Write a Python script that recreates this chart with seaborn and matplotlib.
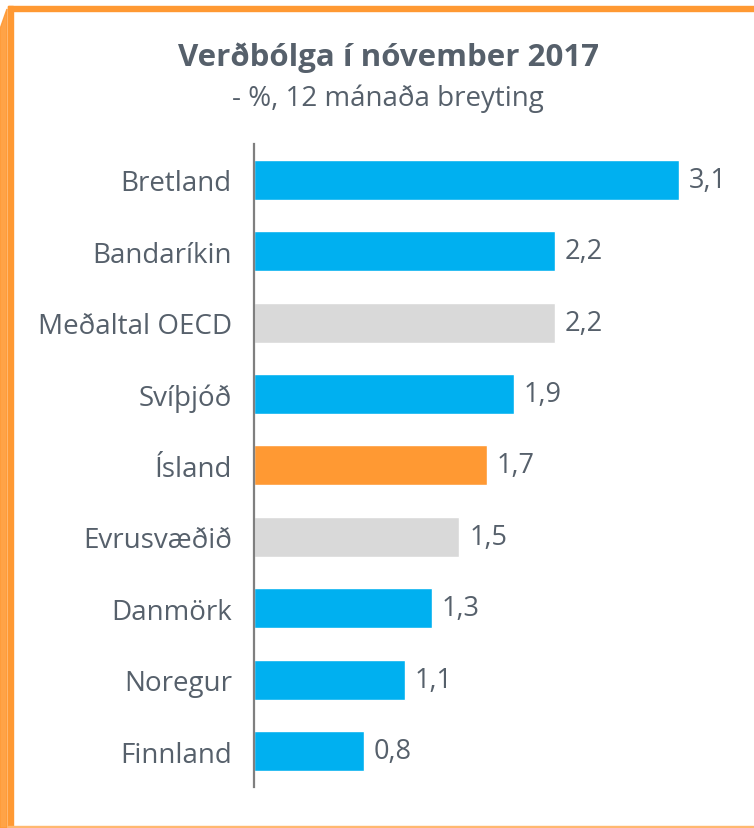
import matplotlib
matplotlib.use("Agg")

import matplotlib.pyplot as plt
import pandas as pd
import seaborn as sns
from matplotlib.patches import Rectangle, Polygon

# data
countries = ["Bretland", "Bandaríkin", "Meðaltal OECD", "Svíþjóð", "Ísland",
             "Evrusvæðið", "Danmörk", "Noregur", "Finnland"]
inflation = [3.1, 2.2, 2.2, 1.9, 1.7, 1.5, 1.3, 1.1, 0.8]
groups = ["land", "land", "meðaltal", "land", "ísland",
          "meðaltal", "land", "land", "land"]

GROUP_COLORS = {"land": "#00B0F0", "meðaltal": "#D9D9D9", "ísland": "#FF9933"}
TEXT = "#56606B"
ORANGE = "#FF9933"

sns.set_theme(style="white")
plt.rcParams["font.family"] = ["Open Sans", "DejaVu Sans"]

df = pd.DataFrame({"land": countries, "verdbolga": inflation, "hopur": groups})

fig = plt.figure(figsize=(7.54, 8.29), dpi=100)
ax = fig.add_axes([0.3369, 0.0495, 0.6631, 0.7756])

sns.barplot(data=df, y="land", x="verdbolga", hue="hopur", palette=GROUP_COLORS,
            dodge=False, width=0.56, legend=False, saturation=1, ax=ax)

for cont in ax.containers:
    ax.bar_label(cont, labels=[f"{v:.1f}".replace(".", ",") for v in cont.datavalues],
                 padding=7, fontsize=19.5, color=TEXT)

ax.set_xlim(0, 3.65)
ax.set_ylim(8.5, -0.5)
ax.set_xlabel("")
ax.set_ylabel("")
ax.set_xticks([])
ax.tick_params(axis="y", length=0, pad=16, labelsize=20, labelcolor=TEXT)
for side in ["top", "right", "bottom"]:
    ax.spines[side].set_visible(False)
ax.spines["left"].set_color("#7F7F7F")
ax.spines["left"].set_linewidth(1.6)

fig.text(0.515, 0.930, "Verðbólga í nóvember 2017", ha="center", va="center",
         fontsize=22.5, fontweight="bold", color=TEXT)
fig.text(0.515, 0.881, "- %, 12 mánaða breyting", ha="center", va="center",
         fontsize=20, color=TEXT)

# orange frame around the chart
W, H = 754, 829
fig.patches.append(Rectangle((8 / W, 1 - 12 / H), 1, 5 / H, transform=fig.transFigure,
                             color=ORANGE, zorder=5))
fig.patches.append(Rectangle((8 / W, 0), 5 / W, 1 - 7 / H, transform=fig.transFigure,
                             color=ORANGE, zorder=5))
fig.patches.append(Polygon([(0, 0), (0, 1 - 30 / H), (7 / W, 1 - 10 / H), (7 / W, 0)],
                           closed=True, transform=fig.transFigure, color=ORANGE,
                           alpha=0.9, zorder=5))
fig.patches.append(Rectangle((8 / W, 0), 1, 2 / H, transform=fig.transFigure,
                             color="#FFB870", zorder=5))

fig.savefig("out.png", dpi=100)
